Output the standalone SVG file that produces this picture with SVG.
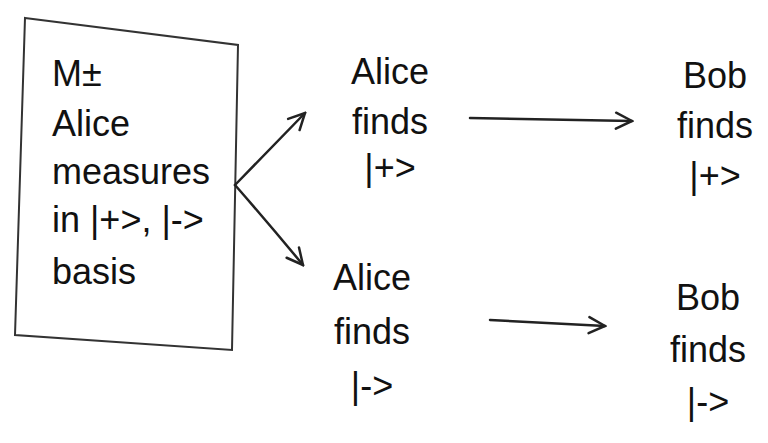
<svg xmlns="http://www.w3.org/2000/svg" width="768" height="443" viewBox="0 0 768 443">
<style>
text{font-family:"Liberation Sans",Arial,sans-serif;font-size:36px;fill:#111}
.c{text-anchor:middle}
.edge{fill:none;stroke:#222;stroke-width:2.5;stroke-linecap:round}
.box{fill:none;stroke:#333;stroke-width:2}
</style>
<defs>
<marker id="ah" viewBox="0 0 20 20" refX="18" refY="10" markerWidth="20" markerHeight="20" markerUnits="userSpaceOnUse" orient="auto">
<path d="M2,2 L18,10 L2,18" fill="none" stroke="#222" stroke-width="2.5" stroke-linecap="round"/>
</marker>
</defs>
<rect width="768" height="443" fill="#fff"/>
<g id="measure">
<path class="box" d="M25,18 L238,45 L232,350 L15,335 Z"/>
<text x="52" y="86">M±</text>
<text x="52" y="136">Alice</text>
<text x="52" y="184">measures</text>
<text x="52" y="232">in |+&gt;, |-&gt;</text>
<text x="52" y="284">basis</text>
</g>
<g id="alice-plus">
<text class="c" x="390" y="84">Alice</text>
<text class="c" x="390" y="134">finds</text>
<text class="c" x="390" y="180">|+&gt;</text>
</g>
<g id="bob-plus">
<text class="c" x="715" y="88">Bob</text>
<text class="c" x="715" y="138">finds</text>
<text class="c" x="715" y="188">|+&gt;</text>
</g>
<g id="alice-minus">
<text class="c" x="372" y="290">Alice</text>
<text class="c" x="372" y="344">finds</text>
<text class="c" x="372" y="398">|-&gt;</text>
</g>
<g id="bob-minus">
<text class="c" x="708" y="310">Bob</text>
<text class="c" x="708" y="362">finds</text>
<text class="c" x="708" y="414">|-&gt;</text>
</g>
<g id="connectors">
<path class="edge" d="M235,185 L305,113" marker-end="url(#ah)"/>
<path class="edge" d="M235,185 Q270,225 303,265" marker-end="url(#ah)"/>
<path class="edge" d="M470,118 L632,121" marker-end="url(#ah)"/>
<path class="edge" d="M490,320 L605,326" marker-end="url(#ah)"/>
</g>
</svg>
